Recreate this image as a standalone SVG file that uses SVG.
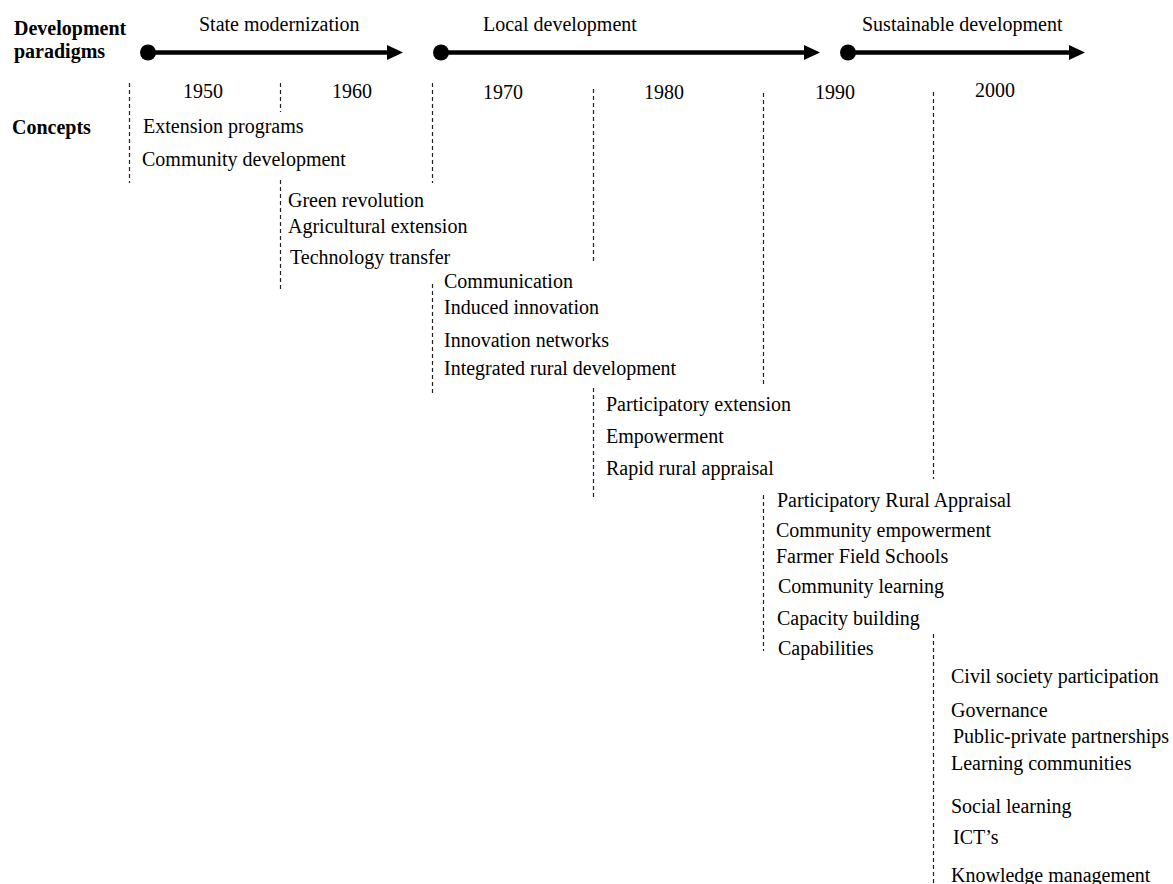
<svg xmlns="http://www.w3.org/2000/svg" width="1173" height="884" viewBox="0 0 1173 884">
<style>
text{font-family:"Liberation Serif","Times New Roman",serif;font-size:20px;fill:#000}
.b{font-weight:bold}
.dash{stroke:#222;stroke-width:1.2;stroke-dasharray:4 3;fill:none}
.arr{stroke:#000;stroke-width:4.5;fill:none}
</style>
<defs>
<marker id="ah" markerWidth="17" markerHeight="16" refX="2" refY="8" orient="auto" markerUnits="userSpaceOnUse">
<path d="M0,0.5 L16,8 L0,15.5 Z" fill="#000"/>
</marker>
</defs>
<rect width="1173" height="884" fill="#fff"/>

<g id="headings">
<text class="b" x="14" y="35">Development</text>
<text class="b" x="14" y="58">paradigms</text>
<text class="b" x="12" y="134">Concepts</text>
</g>

<g id="connectors">
<line class="arr" x1="148" y1="52.5" x2="389" y2="52.5" marker-end="url(#ah)"/>
<circle cx="148" cy="52.5" r="8"/>
<line class="arr" x1="441" y1="52.5" x2="806" y2="52.5" marker-end="url(#ah)"/>
<circle cx="441" cy="52.5" r="8"/>
<line class="arr" x1="848" y1="52.5" x2="1071" y2="52.5" marker-end="url(#ah)"/>
<circle cx="848" cy="52.5" r="8"/>
</g>

<g id="paradigms">
<text x="199" y="31">State modernization</text>
<text x="483" y="31">Local development</text>
<text x="862" y="31">Sustainable development</text>
</g>

<g id="decades">
<text x="183" y="98">1950</text>
<text x="332" y="98">1960</text>
<text x="483" y="99">1970</text>
<text x="644" y="99">1980</text>
<text x="815" y="99">1990</text>
<text x="975" y="97">2000</text>
</g>

<g id="dividers">
<line class="dash" x1="129.5" y1="83" x2="129.5" y2="183"/>
<line class="dash" x1="280.5" y1="83" x2="280.5" y2="112"/>
<line class="dash" x1="280.5" y1="180" x2="280.5" y2="289"/>
<line class="dash" x1="432.5" y1="83" x2="432.5" y2="183"/>
<line class="dash" x1="432.5" y1="284" x2="432.5" y2="395"/>
<line class="dash" x1="593.5" y1="89" x2="593.5" y2="261"/>
<line class="dash" x1="593.5" y1="388" x2="593.5" y2="497"/>
<line class="dash" x1="763.5" y1="93" x2="763.5" y2="386"/>
<line class="dash" x1="763.5" y1="495" x2="763.5" y2="651"/>
<line class="dash" x1="933.5" y1="92" x2="933.5" y2="479"/>
<line class="dash" x1="933.5" y1="634" x2="933.5" y2="884"/>
</g>

<g id="concepts-1950s">
<text x="143" y="133">Extension programs</text>
<text x="142" y="166">Community development</text>
</g>

<g id="concepts-1960s">
<text x="288" y="207">Green revolution</text>
<text x="288" y="233">Agricultural extension</text>
<text x="290" y="264">Technology transfer</text>
</g>

<g id="concepts-1970s">
<text x="444" y="288">Communication</text>
<text x="444" y="314">Induced innovation</text>
<text x="444" y="347">Innovation networks</text>
<text x="444" y="375">Integrated rural development</text>
</g>

<g id="concepts-1980s">
<text x="606" y="411">Participatory extension</text>
<text x="606" y="443">Empowerment</text>
<text x="606" y="475">Rapid rural appraisal</text>
</g>

<g id="concepts-1990s">
<text x="777" y="507">Participatory Rural Appraisal</text>
<text x="776" y="537">Community empowerment</text>
<text x="776" y="563">Farmer Field Schools</text>
<text x="778" y="593">Community learning</text>
<text x="777" y="625">Capacity building</text>
<text x="778" y="655">Capabilities</text>
</g>

<g id="concepts-2000s">
<text x="951" y="683">Civil society participation</text>
<text x="951" y="717">Governance</text>
<text x="953" y="743">Public-private partnerships</text>
<text x="951" y="770">Learning communities</text>
<text x="951" y="813">Social learning</text>
<text x="953" y="844">ICT’s</text>
<text x="951" y="882">Knowledge management</text>
</g>
</svg>
